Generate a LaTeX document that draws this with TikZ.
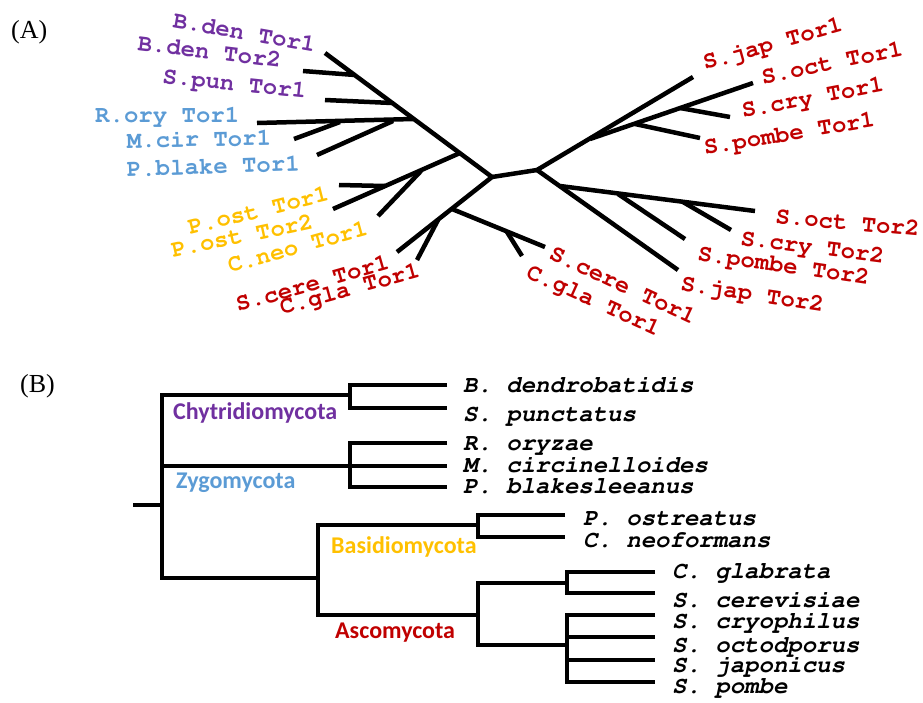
\documentclass[tikz,border=0pt]{standalone}
\usepackage[T1]{fontenc}
\usepackage{fontspec}
\setmainfont{Liberation Serif}
\newfontfamily\calfam{Carlito}
\newcommand{\courbf}{\fontencoding{T1}\fontfamily{pcr}\fontseries{b}\fontshape{n}\selectfont}
\newcommand{\courbi}{\fontencoding{T1}\fontfamily{pcr}\fontseries{b}\fontshape{sl}\selectfont}
\definecolor{cpur}{HTML}{7030A0}
\definecolor{cblu}{HTML}{5B9BD5}
\definecolor{corg}{HTML}{FFC000}
\definecolor{cred}{HTML}{C00000}
\tikzset{
  br/.style={line width=4.5pt, black},
  brb/.style={line width=4.2pt, black, line join=miter},
  lab/.style={anchor=base west, inner sep=0pt, font=\courbf\fontsize{24}{25}\selectfont},
  leaf/.style={anchor=base west, inner sep=0pt, font=\courbi\fontsize{24}{25}\selectfont},
  clade/.style={anchor=base west, inner sep=0pt, font=\calfam\bfseries\fontsize{24}{25}\selectfont},
  panel/.style={anchor=base west, inner sep=0pt, font=\fontsize{26}{27}\selectfont},
}
\begin{document}
\begin{tikzpicture}[x=1pt,y=-1pt]
\useasboundingbox (0,0) rectangle (923,702);
% ---------------- Panel A ----------------
\node[panel] (pA) at (11,38) {(A)};
\coordinate (bden1) at (325,53);
\coordinate (L1) at (492,177);
\coordinate (R1) at (537,170);
\coordinate (jbden) at (355,75);
\coordinate (bden2) at (303,71);
\coordinate (jspun) at (392,103);
\coordinate (spun) at (325,100);
\coordinate (jzygo) at (413,119);
\coordinate (rory) at (257,123);
\coordinate (jmcir) at (340,122);
\coordinate (mcir) at (294,139);
\coordinate (jpbl) at (393,121);
\coordinate (pbl) at (317,155);
\coordinate (jbas) at (460,153);
\coordinate (post2) at (333,209);
\coordinate (jpost1) at (385,186);
\coordinate (post1) at (339,185);
\coordinate (jcneo) at (421,171);
\coordinate (cneo) at (378,216);
\coordinate (scereL) at (397,252);
\coordinate (J2) at (452,209);
\coordinate (jcglaL) at (438,220);
\coordinate (cglaL) at (417,260);
\coordinate (scereR) at (545,247);
\coordinate (jcglaR) at (507,232);
\coordinate (cglaR) at (522,256);
\coordinate (sjap1) at (693,77);
\coordinate (jsoct1) at (590,139);
\coordinate (soct1) at (753,83);
\coordinate (jscry1) at (680,108);
\coordinate (scry1) at (730,117);
\coordinate (jspom1) at (635,124);
\coordinate (spom1) at (700,138);
\coordinate (sjap2) at (678,270);
\coordinate (jsoct2) at (560,186);
\coordinate (soct2) at (755,211);
\coordinate (jspom2) at (618,194);
\coordinate (spom2) at (685,239);
\coordinate (jscry2) at (683,202);
\coordinate (scry2) at (731,230);

\draw[br] (bden1) -- (L1);
\draw[br] (bden2) -- (jbden);
\draw[br] (spun) -- (jspun);
\draw[br] (rory) -- (jzygo);
\draw[br] (mcir) -- (jmcir);
\draw[br] (pbl) -- (jpbl);
\draw[br] (jbas) -- (post2);
\draw[br] (post1) -- (jpost1);
\draw[br] (cneo) -- (jcneo);
\draw[br] (L1) -- (scereL);
\draw[br] (cglaL) -- (jcglaL);
\draw[br] (J2) -- (scereR);
\draw[br] (cglaR) -- (jcglaR);
\draw[br] (L1) -- (R1);
\draw[br] (R1) -- (sjap1);
\draw[br] (jsoct1) -- (soct1);
\draw[br] (jscry1) -- (scry1);
\draw[br] (jspom1) -- (spom1);
\draw[br] (R1) -- (sjap2);
\draw[br] (jsoct2) -- (soct2);
\draw[br] (jspom2) -- (spom2);
\draw[br] (jscry2) -- (scry2);

\node[lab, text=cpur, rotate=-10] (t1) at (172,27) {B.den Tor1};
\node[lab, text=cpur, rotate=-7] (t2) at (137,50) {B.den Tor2};
\node[lab, text=cpur, rotate=-6] (t3) at (162,83) {S.pun Tor1};
\node[lab, text=cblu, rotate=0] (t4) at (95,122) {R.ory Tor1};
\node[lab, text=cblu, rotate=1] (t5) at (127,148) {M.cir Tor1};
\node[lab, text=cblu, rotate=2] (t6) at (127,177) {P.blake Tor1};
\node[lab, text=corg, rotate=14] (t7) at (190,235) {P.ost Tor1};
\node[lab, text=corg, rotate=12] (t8) at (173,258) {P.ost Tor2};
\node[lab, text=corg, rotate=15.5] (t9) at (230,273) {C.neo Tor1};
\node[lab, text=cred, rotate=16] (t10) at (238,312) {S.cere Tor1};
\node[lab, text=cred, rotate=15.5] (t11) at (282,315) {C.gla Tor1};
\node[lab, text=cred, rotate=15.7] (t12) at (705,70) {S.jap Tor1};
\node[lab, text=cred, rotate=12] (t13) at (763,85) {S.oct Tor1};
\node[lab, text=cred, rotate=10.8] (t14) at (743,118) {S.cry Tor1};
\node[lab, text=cred, rotate=9.5] (t15) at (705,155) {S.pombe Tor1};
\node[lab, text=cred, rotate=-5.3] (t16) at (775,223) {S.oct Tor2};
\node[lab, text=cred, rotate=-7.2] (t17) at (740,245) {S.cry Tor2};
\node[lab, text=cred, rotate=-8.3] (t18) at (697,260) {S.pombe Tor2};
\node[lab, text=cred, rotate=-8.7] (t19) at (680,290) {S.jap Tor2};
\node[lab, text=cred, rotate=-25] (t20) at (548,258) {S.cere Tor1};
\node[lab, text=cred, rotate=-24.4] (t21) at (525,277) {C.gla Tor1};

% ---------------- Panel B ----------------
\node[panel] (pB) at (20,392) {(B)};
\coordinate (root0) at (133,505);
\coordinate (root1) at (162,505);
\coordinate (ch) at (162,395);
\coordinate (chj) at (350,395);
\coordinate (zy) at (162,466);
\coordinate (bot) at (162,578);
\coordinate (botj) at (318,578);

\draw[brb] (root0) -- (root1);
\draw[brb] (chj) -- (ch) -- (bot) -- (botj);
\draw[brb] (zy) -- (447,466);
\draw[brb] (447,385) -- (350,385) -- (350,408) -- (447,408);
\draw[brb] (447,443) -- (350,443) -- (350,487) -- (447,487);
\draw[brb] (478,525) -- (318,525) -- (318,615) -- (478,615);
\draw[brb] (565,515) -- (478,515) -- (478,537) -- (565,537);
\draw[brb] (567,583) -- (478,583) -- (478,645) -- (567,645);
\draw[brb] (655,572) -- (567,572) -- (567,593) -- (655,593);
\draw[brb] (655,615) -- (567,615) -- (567,682) -- (655,682);
\draw[brb] (567,637) -- (655,637);
\draw[brb] (567,660) -- (655,660);

\node[leaf] (b1) at (463,392) {B. dendrobatidis};
\node[leaf] (b2) at (463,421) {S. punctatus};
\node[leaf] (b3) at (463,450) {R. oryzae};
\node[leaf] (b4) at (463,472) {M. circinelloides};
\node[leaf] (b5) at (463,493) {P. blakesleeanus};
\node[leaf] (b6) at (583,525) {P. ostreatus};
\node[leaf] (b7) at (583,547) {C. neoformans};
\node[leaf] (b8) at (672,578) {C. glabrata};
\node[leaf] (b9) at (672,607) {S. cerevisiae};
\node[leaf] (b10) at (672,628) {S. cryophilus};
\node[leaf] (b11) at (672,652) {S. octodporus};
\node[leaf] (b12) at (672,672) {S. japonicus};
\node[leaf] (b13) at (672,693) {S. pombe};

\node[clade, text=cpur] (c1) at (173,419) {Chytridiomycota};
\node[clade, text=cblu] (c2) at (176,488) {Zygomycota};
\node[clade, text=corg] (c3) at (331,553) {Basidiomycota};
\node[clade, text=cred] (c4) at (335,638) {Ascomycota};
\end{tikzpicture}
\end{document}
